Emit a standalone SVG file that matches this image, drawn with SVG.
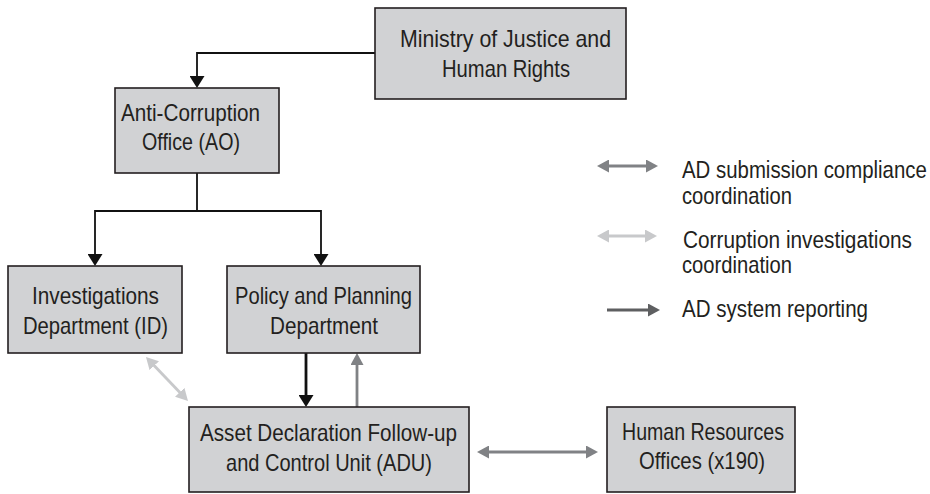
<svg xmlns="http://www.w3.org/2000/svg" width="930" height="494" viewBox="0 0 930 494">
<style>
.box{fill:#d1d2d4;stroke:#231f20;stroke-width:1.6}
.t{font-family:"Liberation Sans",Arial,sans-serif;font-size:24px;fill:#231f20}
.c{fill:none}
.blk{stroke:#111;stroke-width:1.8}
.blk2{stroke:#111;stroke-width:2.8}
.gry{stroke:#808285;stroke-width:2.8}
.lgt{stroke:#c8c9cb;stroke-width:2.8}
.dk{stroke:#5e5f61;stroke-width:2.8}
</style>
<defs>
<marker id="mb" viewBox="0 0 12 15" refX="3" refY="7.5" markerWidth="12" markerHeight="15" markerUnits="userSpaceOnUse" orient="auto-start-reverse"><path d="M0,0 L12,7.5 L0,15 z" fill="#111"/></marker>
<marker id="mg" viewBox="0 0 12 13" refX="3" refY="6.5" markerWidth="12" markerHeight="13" markerUnits="userSpaceOnUse" orient="auto-start-reverse"><path d="M0,0 L12,6.5 L0,13 z" fill="#808285"/></marker>
<marker id="ml" viewBox="0 0 12 13" refX="3" refY="6.5" markerWidth="12" markerHeight="13" markerUnits="userSpaceOnUse" orient="auto-start-reverse"><path d="M0,0 L12,6.5 L0,13 z" fill="#c8c9cb"/></marker>
<marker id="md" viewBox="0 0 12 13" refX="3" refY="6.5" markerWidth="12" markerHeight="13" markerUnits="userSpaceOnUse" orient="auto-start-reverse"><path d="M0,0 L12,6.5 L0,13 z" fill="#5e5f61"/></marker>
</defs>

<g id="connectors">
<path class="c blk" d="M375,53 H197 V79" marker-end="url(#mb)"/>
<path class="c blk" d="M197,173 V211"/>
<path class="c blk" d="M197,211 H95 V257" marker-end="url(#mb)"/>
<path class="c blk" d="M197,211 H321 V257" marker-end="url(#mb)"/>
<path class="c blk2" d="M306,353 V398" marker-end="url(#mb)"/>
<path class="c gry" d="M357,407 V362" marker-end="url(#mg)"/>
<path class="c lgt" d="M152.2,363.5 L181.8,394.5" marker-start="url(#ml)" marker-end="url(#ml)"/>
<path class="c gry" d="M486,452 H589" marker-start="url(#mg)" marker-end="url(#mg)"/>
</g>

<g id="ministry">
<rect class="box" x="375" y="8" width="251" height="91"/>
<text class="t" x="400" y="47" textLength="211" lengthAdjust="spacingAndGlyphs">Ministry of Justice and</text>
<text class="t" x="442" y="77" textLength="128" lengthAdjust="spacingAndGlyphs">Human Rights</text>
</g>
<g id="ao">
<rect class="box" x="115" y="88" width="164" height="85"/>
<text class="t" x="121" y="121" textLength="139" lengthAdjust="spacingAndGlyphs">Anti-Corruption</text>
<text class="t" x="142" y="150" textLength="98" lengthAdjust="spacingAndGlyphs">Office (AO)</text>
</g>
<g id="id">
<rect class="box" x="8" y="266" width="174" height="87"/>
<text class="t" x="32" y="304" textLength="127" lengthAdjust="spacingAndGlyphs">Investigations</text>
<text class="t" x="23" y="334" textLength="145" lengthAdjust="spacingAndGlyphs">Department (ID)</text>
</g>
<g id="policy">
<rect class="box" x="227" y="266" width="193" height="87"/>
<text class="t" x="235" y="304" textLength="177" lengthAdjust="spacingAndGlyphs">Policy and Planning</text>
<text class="t" x="270" y="334" textLength="108" lengthAdjust="spacingAndGlyphs">Department</text>
</g>
<g id="adu">
<rect class="box" x="189" y="407" width="280" height="85"/>
<text class="t" x="200" y="441" textLength="257" lengthAdjust="spacingAndGlyphs">Asset Declaration Follow-up</text>
<text class="t" x="226" y="471" textLength="206" lengthAdjust="spacingAndGlyphs">and Control Unit (ADU)</text>
</g>
<g id="hr">
<rect class="box" x="607" y="407" width="188" height="85"/>
<text class="t" x="622" y="440" textLength="162" lengthAdjust="spacingAndGlyphs">Human Resources</text>
<text class="t" x="639" y="469" textLength="126" lengthAdjust="spacingAndGlyphs">Offices (x190)</text>
</g>

<g id="legend">
<path class="c gry" d="M606,166 H649" marker-start="url(#mg)" marker-end="url(#mg)"/>
<text class="t" transform="translate(682,178) scale(0.85,1)" x="0" y="0">AD submission compliance</text>
<text class="t" x="682" y="204" textLength="110" lengthAdjust="spacingAndGlyphs">coordination</text>
<path class="c lgt" d="M606,236 H648" marker-start="url(#ml)" marker-end="url(#ml)"/>
<text class="t" transform="translate(683,248) scale(0.867,1)" x="0" y="0">Corruption investigations</text>
<text class="t" x="682" y="273" textLength="110" lengthAdjust="spacingAndGlyphs">coordination</text>
<path class="c dk" d="M607,310 H651" marker-end="url(#md)"/>
<text class="t" x="682" y="317" textLength="186" lengthAdjust="spacingAndGlyphs">AD system reporting</text>
</g>
</svg>
